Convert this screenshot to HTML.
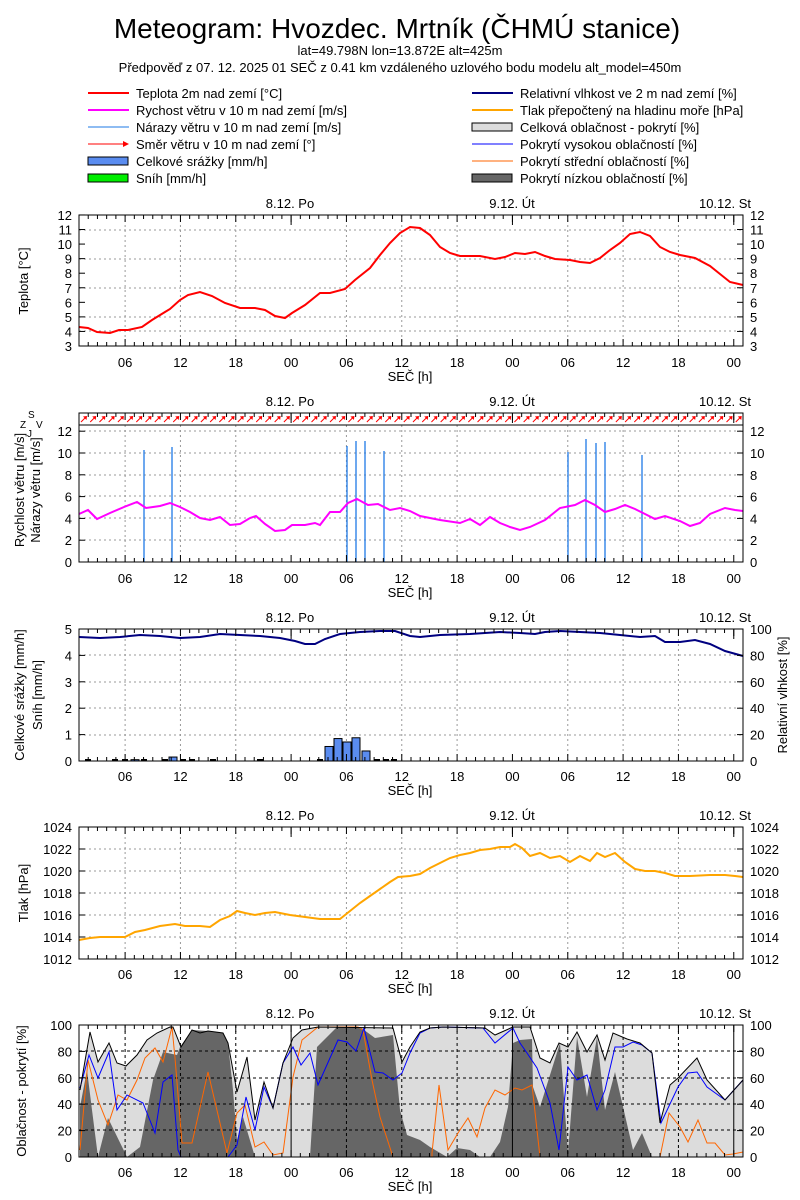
<!DOCTYPE html>
<html><head><meta charset="utf-8"><style>
body{margin:0;background:#fff;}
svg{display:block;font-family:"Liberation Sans",sans-serif;}
</style></head><body>
<svg id="s" width="800" height="1200" xmlns="http://www.w3.org/2000/svg">
<rect width="800" height="1200" fill="#fff"/>
<text x="397" y="38" font-size="28" text-anchor="middle">Meteogram: Hvozdec. Mrtník (ČHMÚ stanice)</text>
<text x="400" y="55" font-size="13" text-anchor="middle">lat=49.798N lon=13.872E alt=425m</text>
<text x="400" y="72" font-size="13" text-anchor="middle">Předpověď z 07. 12. 2025 01 SEČ z 0.41 km vzdáleného uzlového bodu modelu alt_model=450m</text>
<g font-size="13">
<line x1="88" y1="93" x2="129" y2="93" stroke="#f00" stroke-width="2"/><text x="136" y="98">Teplota 2m nad zemí [°C]</text>
<line x1="88" y1="110" x2="129" y2="110" stroke="#f0f" stroke-width="2"/><text x="136" y="115">Rychost větru v 10 m nad zemí [m/s]</text>
<line x1="88" y1="127" x2="129" y2="127" stroke="#1e78e6" stroke-width="1"/><text x="136" y="132">Nárazy větru v 10 m nad zemí [m/s]</text>
<line x1="88" y1="144" x2="127" y2="144" stroke="#f00" stroke-width="1"/><path d="M123,141 L129,144 L123,147Z" fill="#f00"/><text x="136" y="149">Směr větru v 10 m nad zemí [°]</text>
<rect x="88" y="157" width="40" height="8" fill="#5a8cf0" stroke="#000"/><text x="136" y="166">Celkové srážky [mm/h]</text>
<rect x="88" y="174" width="40" height="8" fill="#0e0" stroke="#000"/><text x="136" y="183">Sníh [mm/h]</text>
<line x1="472" y1="93" x2="513" y2="93" stroke="#000080" stroke-width="2"/><text x="520" y="98">Relativní vlhkost ve 2 m nad zemí [%]</text>
<line x1="472" y1="110" x2="513" y2="110" stroke="#ffa500" stroke-width="2"/><text x="520" y="115">Tlak přepočtený na hladinu moře [hPa]</text>
<rect x="472" y="123" width="40" height="8" fill="#dcdcdc" stroke="#000"/><text x="520" y="132">Celková oblačnost - pokrytí [%]</text>
<line x1="472" y1="144" x2="513" y2="144" stroke="#00f" stroke-width="1"/><text x="520" y="149">Pokrytí vysokou oblačností [%]</text>
<line x1="472" y1="161" x2="513" y2="161" stroke="#f60" stroke-width="1"/><text x="520" y="166">Pokrytí střední oblačností [%]</text>
<rect x="472" y="174" width="40" height="8" fill="#666" stroke="#000"/><text x="520" y="183">Pokrytí nízkou oblačností [%]</text>
</g>
<g id="dyn"></g>
<g font-size="13">
<text x="290" y="208" text-anchor="middle">8.12. Po</text><text x="512" y="208" text-anchor="middle">9.12. Út</text><text x="725" y="208" text-anchor="middle">10.12. St</text>
<text x="290" y="406" text-anchor="middle">8.12. Po</text><text x="512" y="406" text-anchor="middle">9.12. Út</text><text x="725" y="406" text-anchor="middle">10.12. St</text>
<text x="290" y="622" text-anchor="middle">8.12. Po</text><text x="512" y="622" text-anchor="middle">9.12. Út</text><text x="725" y="622" text-anchor="middle">10.12. St</text>
<text x="290" y="820" text-anchor="middle">8.12. Po</text><text x="512" y="820" text-anchor="middle">9.12. Út</text><text x="725" y="820" text-anchor="middle">10.12. St</text>
<text x="290" y="1018" text-anchor="middle">8.12. Po</text><text x="512" y="1018" text-anchor="middle">9.12. Út</text><text x="725" y="1018" text-anchor="middle">10.12. St</text>
<g text-anchor="middle" id="xl"></g>
<text x="410" y="381" text-anchor="middle">SEČ [h]</text>
<text x="410" y="597" text-anchor="middle">SEČ [h]</text>
<text x="410" y="795" text-anchor="middle">SEČ [h]</text>
<text x="410" y="993" text-anchor="middle">SEČ [h]</text>
<text x="410" y="1191" text-anchor="middle">SEČ [h]</text>
<text transform="translate(28,281) rotate(-90)" text-anchor="middle">Teplota [°C]</text>
<text transform="translate(24,490) rotate(-90)" text-anchor="middle">Rychlost větru [m/s]</text>
<text transform="translate(40,490) rotate(-90)" text-anchor="middle">Nárazy větru [m/s]</text>
<text x="20" y="428" font-size="10">Z</text><text x="28" y="418" font-size="10">S</text><text x="36" y="428" font-size="10">V</text><text x="27" y="437" font-size="10">J</text>
<text transform="translate(24,695) rotate(-90)" text-anchor="middle">Celkové srážky [mm/h]</text>
<text transform="translate(42,695) rotate(-90)" text-anchor="middle">Sníh [mm/h]</text>
<text transform="translate(787,695) rotate(-90)" text-anchor="middle">Relativní vlhkost [%]</text>
<text transform="translate(28,893) rotate(-90)" text-anchor="middle">Tlak [hPa]</text>
<text transform="translate(26,1091) rotate(-90)" text-anchor="middle">Oblačnost - pokrytí [%]</text>
<g id="yl"></g>
</g>
</svg>
<script>
var NS="http://www.w3.org/2000/svg",D=document.getElementById("dyn");
function el(t,a,p){var e=document.createElementNS(NS,t);for(var k in a)e.setAttribute(k,a[k]);(p||D).appendChild(e);return e;}
function X(h){return 79+h*9.222;}
var panels=[[215,346],[413,562],[629,761],[827,959],[1025,1157]];
function pts(a){var s="";for(var i=0;i<a.length;i+=2)s+=a[i]+","+a[i+1]+" ";return s;}
// cloud fills first
var tot=[80,1090,90,1032,98,1062,109,1043,117,1063,126,1066,137,1055,147,1040,157,1033,170,1027,173,1027,181,1047,192,1030,200,1033,208,1031,223,1033,228,1043,237,1092,247,1057,255,1120,264,1082,273,1108,283,1063,293,1038,302,1030,318,1027,393,1028,402,1062,410,1047,420,1032,430,1028,443,1027,485,1028,495,1035,513,1027,530,1027,540,1058,550,1063,559,1043,568,1047,577,1032,587,1052,597,1035,605,1060,613,1033,627,1039,640,1043,652,1053,660,1123,670,1085,678,1078,697,1058,707,1080,725,1100,743,1080];
el("polygon",{points:"80,1157 "+pts(tot)+"743,1157",fill:"#dcdcdc"});
var low=[80,1107,87,1070,92,1110,98,1157,108,1118,127,1157,140,1147,153,1080,163,1052,177,1055,180,1047,192,1030,208,1031,223,1033,228,1043,233,1090,237,1140,243,1117,255,1157,310,1157,317,1047,337,1027,360,1027,375,1038,393,1035,400,1110,407,1135,420,1140,430,1147,447,1157,457,1148,470,1150,480,1157,490,1157,500,1142,508,1107,513,1043,520,1040,532,1039,533,1087,540,1107,560,1043,568,1153,577,1037,587,1097,597,1037,605,1110,615,1072,633,1150,642,1133,652,1157];
el("polygon",{points:"80,1157 "+pts(low)+"743,1157",fill:"#666"});
// grids
var grid=[[215,346,[230,259,288,317,331]],[425,562,[431,453,475,496,518,540]],[629,761,[655,682,708,735]],[827,959,[849,871,893,915,937]],[1025,1157,[1051,1078,1104,1130]]];
grid.forEach(function(g,i){
 var dash=i==4?"3,3":"2,3",col=i==4?"#000":"#999";
 for(var h=5;h<72;h+=6){if((h-23)%24==0)continue;el("line",{x1:X(h),x2:X(h),y1:g[0],y2:g[1],stroke:col,"stroke-dasharray":dash,"stroke-width":1});}
 g[2].forEach(function(y){el("line",{x1:79,x2:743,y1:y,y2:y,stroke:col,"stroke-dasharray":dash});});
});
var mid=[80,1150,88,1060,98,1100,108,1125,118,1095,127,1100,137,1080,145,1058,155,1048,163,1062,172,1027,175,1058,182,1143,192,1143,208,1072,227,1153,237,1113,245,1105,255,1147,264,1142,273,1155,283,1153,293,1077,302,1040,318,1027,358,1027,363,1030,372,1080,380,1117,393,1157,432,1157,432,1153,439,1085,448,1150,458,1133,468,1118,477,1137,485,1108,495,1090,505,1095,515,1088,522,1090,532,1085,540,1157,660,1157,669,1113,680,1127,688,1142,698,1120,707,1143,715,1143,725,1155,733,1154,743,1152];
el("polyline",{points:pts(mid),fill:"none",stroke:"#f60"});
var hi=[80,1088,89,1055,98,1078,109,1052,117,1110,127,1095,143,1103,155,1133,163,1082,172,1075,178,1150,181,1157,228,1157,237,1145,246,1097,255,1130,264,1087,273,1108,283,1063,293,1047,301,1065,310,1053,318,1085,338,1040,347,1042,356,1051,364,1028,375,1072,383,1073,393,1080,402,1073,410,1053,420,1033,430,1028,443,1027,483,1028,495,1043,513,1028,520,1043,527,1053,537,1068,550,1103,559,1150,568,1067,577,1080,587,1075,597,1110,605,1090,615,1047,623,1047,633,1042,642,1045,652,1053,661,1123,678,1087,688,1073,697,1072,707,1087,725,1100,743,1080];
el("polyline",{points:pts(hi),fill:"none",stroke:"#00f"});
el("polyline",{points:pts(tot),fill:"none",stroke:"#000"});
[[329,0.55],[338,0.85],[347,0.72],[356,0.88],[366,0.38],[173,0.15],[135,0.05]].forEach(function(b){var y=761-b[1]*26.4;el("rect",{x:b[0]-4,y:y,width:8,height:761-y,fill:"#5a8cf0",stroke:"#000","stroke-width":1});});
[88,115,125,144,165,183,192,213,260,320,377,386,394].forEach(function(x){el("line",{x1:x-3,x2:x+3,y1:760,y2:760,stroke:"#000","stroke-width":2});});
[[144,450],[172,447],[347,446],[356,441],[365,441],[384,451],[568,452],[586,439],[596,443],[605,442],[642,455]].forEach(function(g){el("line",{x1:g[0],x2:g[0],y1:562,y2:g[1],stroke:"#1e78e6","stroke-width":1.3});});
function line(a,c,w){el("polyline",{points:pts(a),fill:"none",stroke:c,"stroke-width":w});}
line([79,327,88,328,97,332,110,333,119,330,128,330,142,327,152,320,165,312,170,309,180,300,188,295,200,292,212,296,225,303,240,308,255,308,265,310,275,316,285,318,292,313,305,305,320,293,330,293,345,289,355,280,370,268,380,255,390,243,400,233,410,227,420,228,430,235,440,247,450,253,460,256,470,256,480,256,495,259,505,257,515,253,525,254,535,252,545,256,555,259,570,260,580,262,590,263,600,258,610,250,620,243,630,234,640,232,650,236,660,247,670,252,680,255,695,258,710,266,720,274,730,282,743,285],"#f00",2);
line([79,514,88,510,97,519,110,513,124,507,137,502,146,508,160,506,170,503,180,507,190,512,200,518,210,520,220,517,230,525,240,524,250,518,256,516,265,524,275,531,285,530,292,525,305,525,315,523,320,525,330,512,340,512,348,503,357,499,368,505,378,504,390,510,400,508,410,511,420,516,440,520,460,523,470,519,480,525,490,517,500,523,510,527,520,530,530,527,545,520,560,508,575,505,585,500,595,505,605,512,615,509,625,505,635,509,645,514,655,519,665,516,680,521,690,526,700,523,710,514,725,508,735,510,743,511],"#f0f",2);
line([79,637,100,638,120,637,140,635,160,636,180,638,200,637,220,634,240,635,260,636,280,638,295,641,305,644,315,644,325,639,340,634,360,632,380,631,395,631,410,636,420,637,440,635,470,634,500,632,520,633,535,634,545,632,560,631,580,632,600,633,620,635,640,637,655,636,665,642,680,642,695,640,710,644,725,651,743,656],"#000080",2);
line([79,940,90,938,100,937,115,937,125,937,135,932,145,930,160,926,175,924,185,926,200,926,210,927,220,920,230,916,237,911,245,913,255,915,265,913,275,912,290,915,305,917,320,919,340,919,350,911,360,903,370,896,380,889,390,882,398,877,410,876,420,874,430,868,440,863,450,858,460,855,470,853,480,850,490,849,500,847,510,847,515,844,522,848,530,856,540,853,550,858,560,856,570,862,580,856,590,861,597,853,605,857,615,853,625,862,635,869,645,871,655,871,665,873,675,876,690,876,710,875,725,875,735,876,743,877],"#ffa500",2);
el("line",{x1:79,x2:743,y1:425,y2:425,stroke:"#000"});
for(var h=0;h<72;h++){var x=X(h)+2,y=422;el("line",{x1:x,y1:y,x2:x+5,y2:y-5,stroke:"#f00"});el("path",{d:"M"+(x+6)+","+(y-6)+" l-4,0.5 l3.5,3.5z",fill:"#f00"});}
panels.forEach(function(p,i){
 el("rect",{x:79,y:p[0],width:664,height:p[1]-p[0],fill:"none",stroke:"#000"});
 for(var h=0;h<=72;h++){var big=(h-5)%6==0,L=big?7:4;el("line",{x1:X(h),x2:X(h),y1:p[1],y2:p[1]-L,stroke:"#000"});el("line",{x1:X(h),x2:X(h),y1:p[0],y2:p[0]+L,stroke:"#000"});}
 [23,47,71].forEach(function(h){if(i==4)el("line",{x1:X(h),x2:X(h),y1:p[0],y2:p[1],stroke:"#000"});else el("line",{x1:X(h),x2:X(h),y1:p[0],y2:p[0]+10,stroke:"#000"});});
});
var Y=document.getElementById("yl"),XL=document.getElementById("xl");
function tx(x,y,s,a,p){var t=el("text",{x:x,y:y,"text-anchor":a},p);t.textContent=s;}
function yax(vals,y0,dy,both,right){vals.forEach(function(v,k){var y=y0-k*dy;tx(72,y+5,v,"end",Y);el("line",{x1:79,x2:85,y1:y,y2:y,stroke:"#000"});el("line",{x1:743,x2:737,y1:y,y2:y,stroke:"#000"});if(both)tx(750,y+5,right?right[k]:v,"start",Y);});}
yax(["3","4","5","6","7","8","9","10","11","12"],346,14.56,true);
yax(["0","2","4","6","8","10","12"],562,21.8,true);
yax(["0","1","2","3","4","5"],761,26.4,true,["0","20","40","60","80","100"]);
yax(["1012","1014","1016","1018","1020","1022","1024"],959,22,true);
yax(["0","20","40","60","80","100"],1157,26.4,true);
var labs=["06","12","18","00","06","12","18","00","06","12","18","00"];
[375,591,789,987,1185].forEach(function(y){labs.forEach(function(l,k){tx(X(5+6*k),y-8,l,"middle",XL);});});
</script>
</body></html>
